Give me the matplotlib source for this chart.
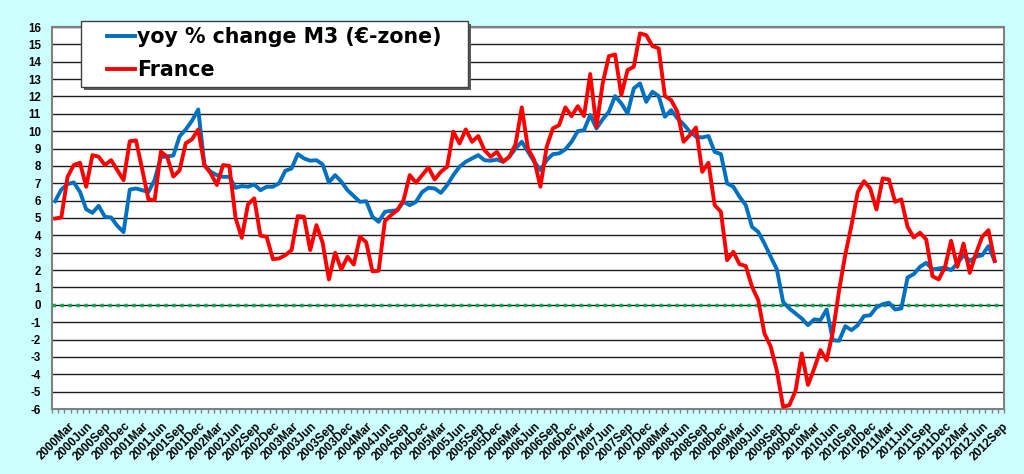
import numpy as np
import pandas as pd
import matplotlib
matplotlib.use("Agg")
import matplotlib.pyplot as plt
from matplotlib.patches import Rectangle
from matplotlib.lines import Line2D
from matplotlib.transforms import ScaledTranslation

plt.rcParams['font.family'] = ['Liberation Sans', 'DejaVu Sans']

# ---------------- data ----------------
months = [f"{p.year}{p.strftime('%b')}" for p in pd.period_range('2000-03', periods=152, freq='M')]
n_categories = 153

m3_eurozone = [
    5.97, 6.64, 6.95, 7.05, 6.5, 5.5, 5.3, 5.7, 5.07, 5.03,
    4.55, 4.19, 6.64, 6.7, 6.6, 6.5, 7.2, 8.5, 8.55, 8.6,
    9.7, 10.1, 10.6, 11.25, 8.05, 7.66, 7.47, 7.37, 7.37, 6.74,
    6.84, 6.8, 6.93, 6.6, 6.8, 6.8, 7.0, 7.72, 7.85, 8.68,
    8.43, 8.3, 8.33, 8.08, 7.05, 7.47, 7.09, 6.6, 6.26, 5.93,
    5.97, 5.07, 4.78, 5.36, 5.41, 5.45, 5.93, 5.74, 5.93, 6.5,
    6.74, 6.7, 6.45, 6.89, 7.47, 7.95, 8.24, 8.43, 8.62, 8.33,
    8.3, 8.37, 8.24, 8.53, 9.0, 9.39, 8.81, 8.24, 7.76, 8.33,
    8.68, 8.72, 8.95, 9.39, 10.0, 10.06, 10.93, 10.16, 10.68, 11.12,
    12.02, 11.6, 11.02, 12.46, 12.75, 11.69, 12.27, 12.02, 10.83, 11.21,
    10.75, 10.4, 9.97, 9.68, 9.64, 9.72, 8.81, 8.68, 6.99, 6.8,
    6.22, 5.74, 4.49, 4.2, 3.53, 2.77, 2.04, 0.17, -0.21, -0.5,
    -0.79, -1.17, -0.84, -0.88, -0.27, -2.04, -2.07, -1.23, -1.46, -1.17,
    -0.65, -0.6, -0.15, 0.04, 0.12, -0.27, -0.21, 1.57, 1.77, 2.19,
    2.42, 2.04, 2.09, 2.15, 2.0, 2.38, 2.86, 2.53, 2.77, 2.86,
    3.38, 2.53,
]

france = [
    4.97, 5.03, 7.37, 8.05, 8.18, 6.8, 8.62, 8.53, 8.05, 8.33,
    7.76, 7.18, 9.42, 9.47, 7.8, 6.07, 6.03, 8.82, 8.53, 7.39,
    7.74, 9.31, 9.53, 10.1, 8.03, 7.58, 6.9, 8.05, 8.0, 5.0,
    3.86, 5.79, 6.13, 3.98, 3.92, 2.63, 2.67, 2.86, 3.15, 5.11,
    5.07, 3.15, 4.59, 3.57, 1.46, 3.0, 2.04, 2.77, 2.32, 3.92,
    3.6, 1.93, 1.96, 4.82, 5.17, 5.45, 6.03, 7.47, 7.03, 7.47,
    7.91, 7.22, 7.66, 7.95, 9.97, 9.29, 10.1, 9.39, 9.72, 8.91,
    8.53, 8.81, 8.24, 8.53, 9.25, 11.37, 9.0, 8.33, 6.8, 9.1,
    10.16, 10.35, 11.37, 10.87, 11.44, 10.87, 13.29, 10.25, 12.75, 14.32,
    14.42, 12.08, 13.52, 13.71, 15.63, 15.53, 14.9, 14.77, 12.02, 11.79,
    11.12, 9.39, 9.77, 10.21, 7.66, 8.18, 5.74, 5.36, 2.57, 3.05,
    2.34, 2.23, 1.04, 0.27, -1.65, -2.4, -3.8, -5.87, -5.78, -4.95,
    -2.8, -4.61, -3.67, -2.61, -3.19, -1.56, 0.84, 2.9, 4.6, 6.5,
    7.12, 6.7, 5.49, 7.28, 7.22, 5.93, 6.07, 4.49, 3.88, 4.15,
    3.76, 1.65, 1.46, 2.15, 3.69, 2.19, 3.53, 1.84, 2.96, 3.92,
    4.3, 2.53,
]

series_names = ["yoy % change M3 (\u20ac-zone)", "France"]
series_colors = ["#0070C0", "#FF0000"]
label_step = 3
y_ticks = list(range(-6, 17))

# ---------------- figure ----------------
W, H = 1024, 474
fig = plt.figure(figsize=(W / 100, H / 100), dpi=100, facecolor="#CCFFFF")
ax = fig.add_axes([52 / W, 65 / H, 952 / W, 382 / H])
ax.set_facecolor("white")

x = np.arange(len(months))
ax.plot(x, m3_eurozone, color=series_colors[0], lw=2.8, zorder=4,
        solid_joinstyle="round", label=series_names[0])
ax.plot(x, france, color=series_colors[1], lw=2.8, zorder=5,
        solid_joinstyle="round", label=series_names[1])

ax.axhline(0, color="#00B050", lw=2.5, ls=(0, (1.0, 1.3)), zorder=3)

ax.set_xlim(-0.5, n_categories - 0.5)
ax.set_ylim(-6, 16)
ax.set_yticks(y_ticks)
ax.set_yticklabels([str(v) for v in y_ticks], fontsize=8.3, fontweight="bold")
ax.grid(axis="y", color="#1E1E1E", lw=1.0, zorder=1)
ax.set_axisbelow(True)

label_pos = x[::label_step]
ax.set_xticks(label_pos)
ax.set_xticklabels([months[i] for i in label_pos], fontsize=8.5, fontweight="bold")
ax.set_xticks(np.arange(-0.5, n_categories, 1), minor=True)
ax.tick_params(axis="x", which="major", length=0, pad=8.0)
ax.tick_params(axis="x", which="minor", length=3, width=1, color="#808080", direction="out")
ax.tick_params(axis="y", length=0, pad=8)

offset = ScaledTranslation(9.5 / 72, 0, fig.dpi_scale_trans)
for lab in ax.get_xticklabels():
    lab.set_rotation(45)
    lab.set_ha("right")
    lab.set_va("top")
    lab.set_rotation_mode("anchor")
    lab.set_transform(lab.get_transform() + offset)

for s in ax.spines.values():
    s.set_color("#808080")
    s.set_linewidth(1.5)

# ---------------- legend ----------------
bx0, by0, bx1, by1 = 81, 21, 468, 87
fig.add_artist(Rectangle(((bx0 + 3) / W, (H - by1 - 3) / H), (bx1 - bx0) / W, (by1 - by0) / H,
                         transform=fig.transFigure, facecolor="#5A5A5A", edgecolor="none", zorder=5))
fig.add_artist(Rectangle((bx0 / W, (H - by1) / H), (bx1 - bx0) / W, (by1 - by0) / H,
                         transform=fig.transFigure, facecolor="white", edgecolor="#404040",
                         lw=1.0, zorder=6))
handles = [Line2D([], [], color=c, lw=2.8) for c in series_colors]
leg = fig.legend(handles, series_names, loc="upper left",
                 bbox_to_anchor=(107 / W, (H - 27) / H), bbox_transform=fig.transFigure,
                 frameon=False, borderpad=0, borderaxespad=0,
                 handlelength=1.35, handletextpad=0.1, labelspacing=0.62,
                 prop={"size": 14.8, "weight": "bold", "family": ["DejaVu Sans"]})
leg.set_zorder(7)

fig.savefig("out.png", dpi=100, facecolor=fig.get_facecolor())
